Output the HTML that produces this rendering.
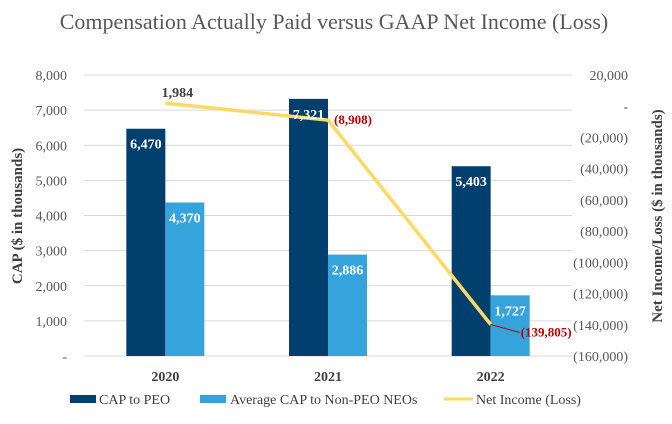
<!DOCTYPE html>
<html><head><meta charset="utf-8"><style>
body{margin:0;background:#fff;font-family:"Liberation Serif",serif;}
svg text{font-family:"Liberation Serif",serif;}
</style></head><body>
<svg id="c" width="672" height="419">
<text x="334" y="29" text-anchor="middle" font-size="22" fill="#595959">Compensation Actually Paid versus GAAP Net Income (Loss)</text>
<g id="grid"></g><g id="bars"></g><g id="line"></g><g id="labels"></g>
<text transform="translate(22,216) rotate(-90)" text-anchor="middle" font-size="15" font-weight="bold" fill="#404040">CAP ($ in thousands)</text>
<text transform="translate(662,216) rotate(-90)" text-anchor="middle" font-size="15" font-weight="bold" fill="#404040">Net Income/Loss ($ in thousands)</text>
<g font-size="14" fill="#404040">
<rect x="70" y="395" width="26" height="8" fill="#003f6e"/>
<text x="99" y="404">CAP to PEO</text>
<rect x="200" y="395" width="26" height="8" fill="#35a3dc"/>
<text x="230" y="404">Average CAP to Non-PEO NEOs</text>
<line x1="444" y1="399" x2="473" y2="399" stroke="#ffd966" stroke-width="3"/>
<text x="476" y="404">Net Income (Loss)</text>
</g>
</svg>
<script>
const categories=["2020","2021","2022"];
const capPeo=[6470,7321,5403];
const capNeo=[4370,2886,1727];
const netIncome=[1984,-8908,-139805];
const leftTicks=[0,1000,2000,3000,4000,5000,6000,7000,8000];
const rightTicks=[20000,0,-20000,-40000,-60000,-80000,-100000,-120000,-140000,-160000];
const NS="http://www.w3.org/2000/svg";
const x0=84,x1=572,yTop=75,yBot=356;
const yL=v=>yBot-(v/8000)*(yBot-yTop);
const yR=v=>yTop+(20000-v)/180000*(yBot-yTop);
const bw=(x1-x0)/categories.length;
const xc=i=>x0+bw*(i+0.5);
const fmt=v=>v===0?"-":(v<0?"("+Math.abs(v).toLocaleString("en-US")+")":v.toLocaleString("en-US"));
function mk(tag,attrs,parent,text){const e=document.createElementNS(NS,tag);for(const k in attrs)e.setAttribute(k,attrs[k]);if(text!==undefined)e.textContent=text;document.getElementById(parent).appendChild(e);return e;}
leftTicks.forEach(v=>{
 const l=mk("line",{x1:x0,x2:x1,y1:yL(v),y2:yL(v),stroke:"#d9d9d9"},"grid");
 
 
 const t=mk("text",{x:67,y:yL(v)+5,"text-anchor":"end","font-size":14,fill:"#595959"},"grid",fmt(v));
 
 
});
rightTicks.forEach(v=>{
 const t=mk("text",{x:628,y:yR(v)+5,"text-anchor":"end","font-size":14,fill:"#595959"},"grid",fmt(v));
 
 
});
const w=39;
categories.forEach((c,i)=>{
 const a=mk("rect",{x:xc(i)-w,y:yL(capPeo[i]),width:w,height:yBot-yL(capPeo[i]),fill:"#003f6e"},"bars");
 
 
 const b=mk("rect",{x:xc(i),y:yL(capNeo[i]),width:w,height:yBot-yL(capNeo[i]),fill:"#35a3dc"},"bars");
 
 
 const t1=mk("text",{x:xc(i)-w/2,y:yL(capPeo[i])+20,"text-anchor":"middle","font-size":14,"font-weight":"bold",fill:"#fff"},"labels",fmt(capPeo[i]));
 
 
 const t2=mk("text",{x:xc(i)+w/2,y:yL(capNeo[i])+20,"text-anchor":"middle","font-size":14,"font-weight":"bold",fill:"#fff"},"labels",fmt(capNeo[i]));
 
 
 const xt=mk("text",{x:xc(i),y:381,"text-anchor":"middle","font-size":14,"font-weight":"bold",fill:"#404040"},"labels",c);
 
 
});
const pl=mk("polyline",{points:netIncome.map((v,i)=>xc(i)+","+yR(v)).join(" "),fill:"none",stroke:"#ffd966","stroke-width":3.5},"line");


const l0=mk("text",{x:xc(0)+12,y:yR(netIncome[0])-6,"text-anchor":"middle","font-size":14,"font-weight":"bold",fill:"#404040"},"labels",fmt(netIncome[0]));


const l1=mk("text",{x:xc(1)+6,y:yR(netIncome[1])+4,"font-size":13,"font-weight":"bold",fill:"#c00000"},"labels",fmt(netIncome[1]));


const ld=mk("line",{x1:xc(2),y1:yR(netIncome[2]),x2:xc(2)+29,y2:yR(netIncome[2])+8,stroke:"#c00000","stroke-width":1},"labels");


const l2=mk("text",{x:xc(2)+30,y:yR(netIncome[2])+12,"font-size":13,"font-weight":"bold",fill:"#c00000"},"labels",fmt(netIncome[2]));


</script>
</body></html>
